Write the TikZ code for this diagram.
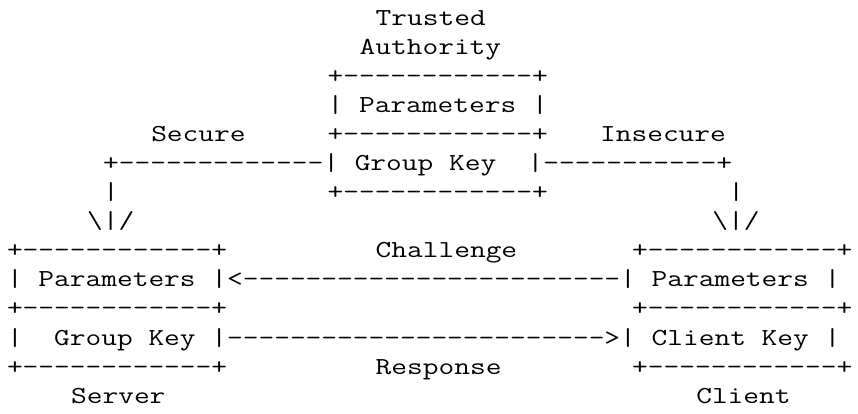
\documentclass[tikz,border=0pt]{standalone}
\usepackage{fontspec}
\begin{document}
\begin{tikzpicture}[x=1pt,y=1pt,
  ascii/.style={anchor=base west, inner sep=0pt, outer sep=0pt, text=black,
    font=\ttfamily\fontsize{30.53pt}{29pt}\selectfont}]
\fill[white] (0,0) rectangle (858,414);
\useasboundingbox (0,0) rectangle (858,414);
% flatten the typewriter glyphs a little, keeping the baseline
\newcommand{\tline}[1]{\scalebox{1}[0.8]{#1}}
% character grid: one unit = one column / one text row
\begin{scope}[x=16.03pt, y=-29.05pt, shift={(7pt,388.5pt)}]
  % trusted authority
  \node[ascii] (ta1)  at (23,0) {\tline{Trusted}};
  \node[ascii] (ta2)  at (22,1) {\tline{Authority}};
  \node[ascii] (tat)  at (20,2) {\tline{+------------+}};
  \node[ascii] (tap)  at (20,3) {\tline{| Parameters |}};
  \node[ascii] (sec)  at (9,4)  {\tline{Secure}};
  \node[ascii] (tam)  at (20,4) {\tline{+------------+}};
  \node[ascii] (ins)  at (37,4) {\tline{Insecure}};
  \node[ascii] (tag)  at (6,5)  {\tline{+-------------| Group Key~~|-----------+}};
  \node[ascii] (vl)   at (6,6)  {\tline{|}};
  \node[ascii] (tab)  at (20,6) {\tline{+------------+}};
  \node[ascii] (vr)   at (45,6) {\tline{|}};
  \node[ascii] (al)   at (5,7)  {\tline{\textbackslash|/}};
  \node[ascii] (ar)   at (44,7) {\tline{\textbackslash|/}};
  % server and client
  \node[ascii] (st)   at (0,8)  {\tline{+------------+}};
  \node[ascii] (chl)  at (23,8) {\tline{Challenge}};
  \node[ascii] (ct)   at (39,8) {\tline{+------------+}};
  \node[ascii] (pr)   at (0,9)  {\tline{| Parameters |<------------------------| Parameters |}};
  \node[ascii] (sm)   at (0,10) {\tline{+------------+}};
  \node[ascii] (cm)   at (39,10) {\tline{+------------+}};
  \node[ascii] (key)  at (0,11) {\tline{|~~Group Key |------------------------>| Client Key |}};
  \node[ascii] (sb)   at (0,12) {\tline{+------------+}};
  \node[ascii] (rsp)  at (23,12) {\tline{Response}};
  \node[ascii] (cb)   at (39,12) {\tline{+------------+}};
  \node[ascii] (srv)  at (4,13) {\tline{Server}};
  \node[ascii] (cli)  at (43,13) {\tline{Client}};
\end{scope}
\end{tikzpicture}
\end{document}
